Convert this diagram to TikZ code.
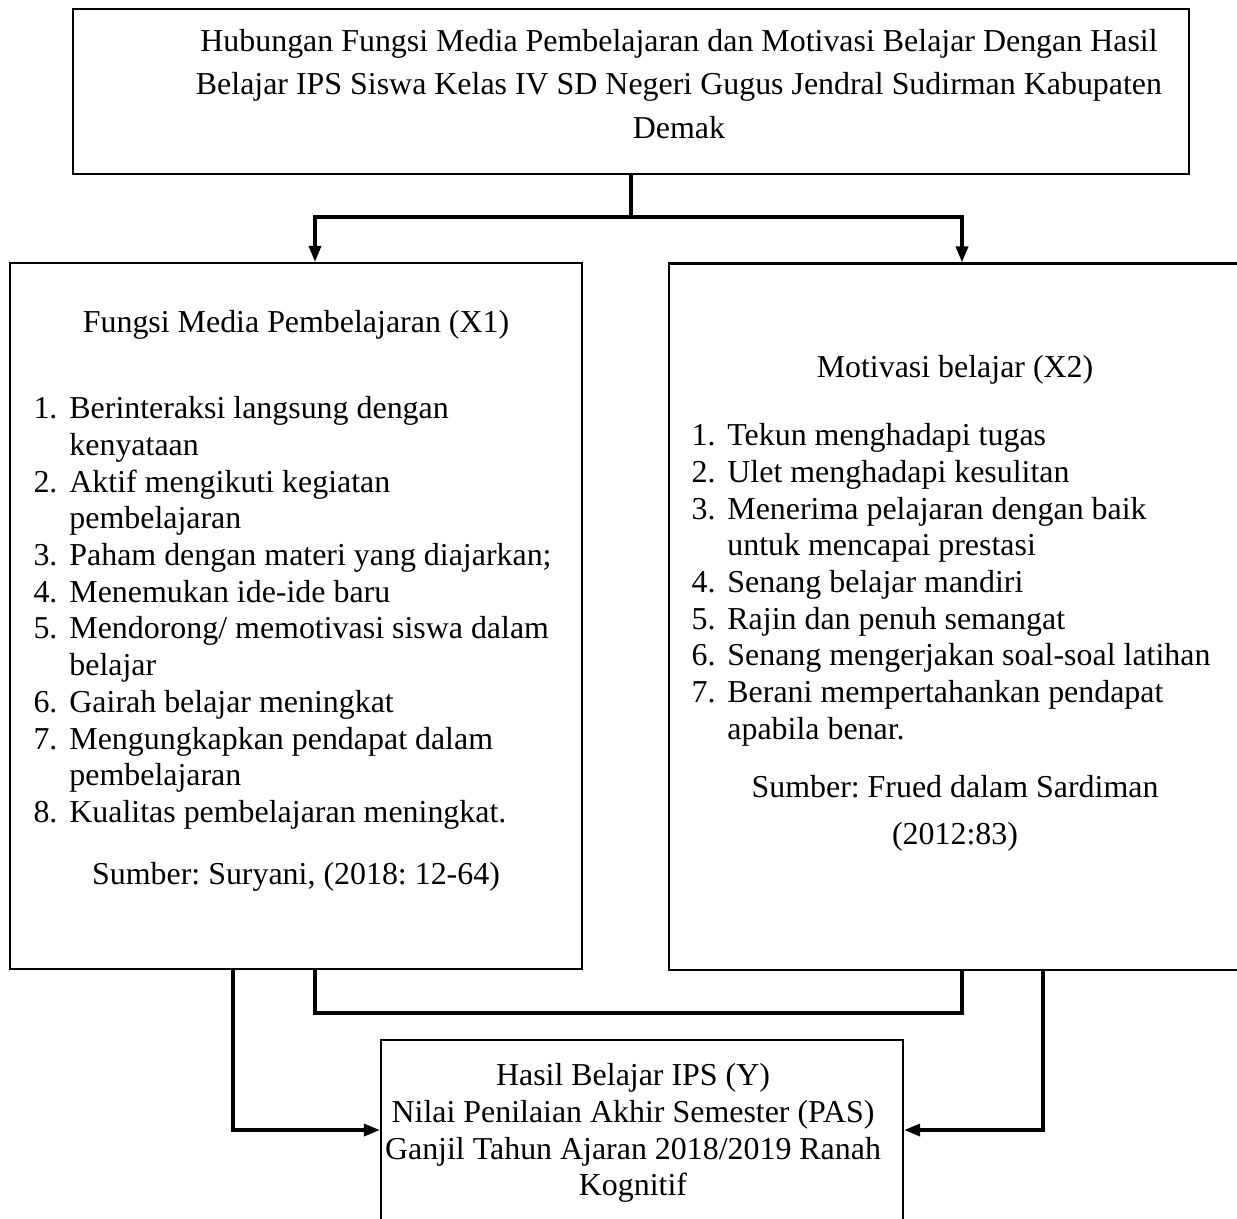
\documentclass[tikz,border=0pt]{standalone}
\usepackage{fontspec}
\setmainfont{Liberation Serif}
\usetikzlibrary{arrows.meta, positioning, calc}
\frenchspacing

\newcommand{\nomor}[1]{\makebox[13.5pt][l]{#1}}
\newcommand{\lanjut}{\hspace*{13.5pt}}

\begin{document}
\begin{tikzpicture}[
    x=0.376pt, y=-0.376pt,
    kotak/.style={draw, line width=0.8pt, inner sep=0pt},
    teks/.style={font=\fontsize{12}{13.8}\selectfont, inner sep=0pt},
    daftar/.style={teks, align=left, anchor=north west},
    garis/.style={line width=1.3pt},
    arr/.style={-{Triangle[length=6pt, width=4.5pt]}, line width=1.3pt}
  ]
    \useasboundingbox (0,0) rectangle (1237,1218);
    \clip (0,0) rectangle (1237,1218);

    % Kotak
    \node[kotak, minimum width=419.6pt, minimum height=62pt] (hub) at (631, 91.5) {};
    \node[kotak, minimum width=215.1pt, minimum height=265.5pt] (media) at (296, 616) {};
    \node[kotak, minimum width=215.1pt, minimum height=265.5pt] (motiv) at (955, 616.5) {};
    \node[kotak, minimum width=196.3pt, minimum height=73.3pt] (hasil) at (642, 1137.5) {};

    % Judul
    \node[teks, align=center, font=\fontsize{12}{16.2}\selectfont] (hubT) at (679, 84)
      {Hubungan Fungsi Media Pembelajaran dan Motivasi Belajar Dengan Hasil\\
       Belajar IPS Siswa Kelas IV SD Negeri Gugus Jendral Sudirman Kabupaten\\
       Demak};

    % Fungsi media (X1)
    \node[teks] (mediaJ) at (296, 325) {Fungsi Media Pembelajaran (X1)};
    \node[daftar] (mediaD) at (33, 396)
      {\nomor{1.}Berinteraksi langsung dengan\\
       \lanjut kenyataan\\
       \nomor{2.}Aktif mengikuti kegiatan\\
       \lanjut pembelajaran\\
       \nomor{3.}Paham dengan materi yang diajarkan;\\
       \nomor{4.}Menemukan ide-ide baru\\
       \nomor{5.}Mendorong/ memotivasi siswa dalam\\
       \lanjut belajar\\
       \nomor{6.}Gairah belajar meningkat\\
       \nomor{7.}Mengungkapkan pendapat dalam\\
       \lanjut pembelajaran\\
       \nomor{8.}Kualitas pembelajaran meningkat.};
    \node[teks] (mediaS) at (296, 877) {Sumber: Suryani, (2018: 12-64)};

    % Motivasi belajar (X2)
    \node[teks] (motivJ) at (955, 370) {Motivasi belajar (X2)};
    \node[daftar] (motivD) at (691, 423)
      {\nomor{1.}Tekun menghadapi tugas\\
       \nomor{2.}Ulet menghadapi kesulitan\\
       \nomor{3.}Menerima pelajaran dengan baik\\
       \lanjut untuk mencapai prestasi\\
       \nomor{4.}Senang belajar mandiri\\
       \nomor{5.}Rajin dan penuh semangat\\
       \nomor{6.}Senang mengerjakan soal-soal latihan\\
       \nomor{7.}Berani mempertahankan pendapat\\
       \lanjut apabila benar.};
    \node[teks, align=center, font=\fontsize{12}{17.7}\selectfont] (motivS) at (955, 813)
      {Sumber: Frued dalam Sardiman\\(2012:83)};

    % Hasil belajar (Y)
    \node[teks, align=center] (hasilT) at (633, 1133)
      {Hasil Belajar IPS (Y)\\
       Nilai Penilaian Akhir Semester (PAS)\\
       Ganjil Tahun Ajaran 2018/2019 Ranah\\
       Kognitif};

    % Panah atas
    \coordinate (kiri) at (315, 217);
    \coordinate (kanan) at (962, 217);
    \draw[garis] (hub.south) -- (hub.south |- kiri);
    \draw[arr] (kanan) -- (kiri) -- (kiri |- media.north);
    \draw[arr] (kiri) -- (kanan) -- (kanan |- motiv.north);

    % Penghubung X1 dan X2
    \coordinate (uKiri) at (315, 1013);
    \coordinate (uKanan) at (962, 1013);
    \draw[garis] (uKiri |- media.south) -- (uKiri) -- (uKanan) -- (uKanan |- motiv.south);

    % Panah bawah
    \coordinate (pKiri) at (233, 1130);
    \coordinate (pKanan) at (1043, 1130);
    \draw[arr] (pKiri |- media.south) -- (pKiri) -- (pKiri -| hasil.west);
    \draw[arr] (pKanan |- motiv.south) -- (pKanan) -- (pKanan -| hasil.east);
\end{tikzpicture}
\end{document}
